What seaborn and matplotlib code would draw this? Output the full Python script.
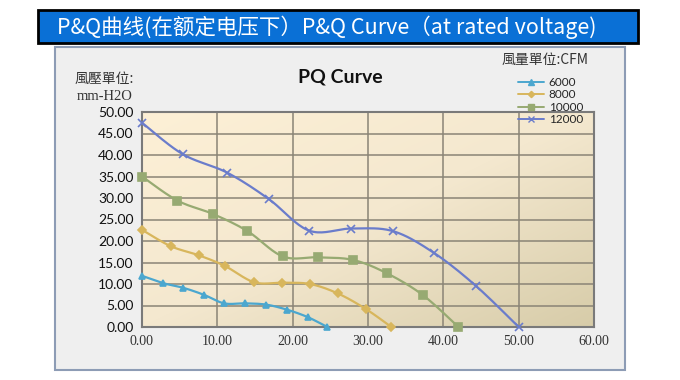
import numpy as np
import pandas as pd
import matplotlib
matplotlib.use('Agg')
import matplotlib.pyplot as plt
from matplotlib.colors import LinearSegmentedColormap
from matplotlib.patches import Rectangle
from matplotlib.lines import Line2D
import seaborn as sns

# values (airflow, pressure)
x_6000 = [0.0, 2.8, 5.5, 8.2, 10.9, 13.7, 16.5, 19.3, 22.0, 24.6]
y_6000 = [11.9, 10.2, 9.1, 7.5, 5.5, 5.5, 5.2, 4.0, 2.3, 0.0]
x_8000 = [0.0, 3.8, 7.5, 11.0, 14.9, 18.6, 22.3, 26.0, 29.7, 33.1]
y_8000 = [22.6, 18.8, 16.7, 14.2, 10.4, 10.3, 10.0, 7.8, 4.2, 0.0]
x_10000 = [0.0, 4.7, 9.4, 14.0, 18.7, 23.3, 28.0, 32.5, 37.3, 42.0]
y_10000 = [35.0, 29.4, 26.3, 22.3, 16.4, 16.2, 15.6, 12.5, 7.4, 0.0]
x_12000 = [0.0, 5.4, 11.3, 16.8, 22.2, 27.8, 33.3, 38.7, 44.3, 50.0]
y_12000 = [47.5, 40.2, 35.9, 29.8, 22.4, 22.9, 22.3, 17.3, 9.6, 0.0]

series = ['6000', '8000', '10000', '12000']
xs = [x_6000, x_8000, x_10000, x_12000]
ys = [y_6000, y_8000, y_10000, y_12000]
colors = ['#4ba7cf', '#d8b65c', '#97aa72', '#6a7ccb']
markers = ['^', 'D', 's', 'x']
msizes = [5, 4, 6, 6]

x_ticks = [0, 10, 20, 30, 40, 50, 60]
y_ticks = [0, 5, 10, 15, 20, 25, 30, 35, 40, 45, 50]


def smooth(px, py, n=20):
    # excel-like smooth line (catmull-rom through the points)
    p = np.column_stack([px, py])
    p = np.vstack([p[0], p, p[-1]])
    out = []
    for i in range(1, len(p) - 2):
        p0, p1, p2, p3 = p[i - 1], p[i], p[i + 1], p[i + 2]
        t = np.linspace(0, 1, n, endpoint=False)[:, None]
        seg = 0.5 * ((2 * p1) + (-p0 + p2) * t + (2 * p0 - 5 * p1 + 4 * p2 - p3) * t ** 2
                     + (-p0 + 3 * p1 - 3 * p2 + p3) * t ** 3)
        out.append(seg)
    out.append(p[-2][None, :])
    out = np.vstack(out)
    return out[:, 0], np.clip(out[:, 1], 0, None)


pts = pd.DataFrame([(s, a, b) for s, xx, yy in zip(series, xs, ys) for a, b in zip(xx, yy)],
                   columns=['cfm', 'flow', 'pressure'])
curve_rows = []
for s, xx, yy in zip(series, xs, ys):
    cx, cy = smooth(xx, yy)
    curve_rows += [(s, a, b, i) for i, (a, b) in enumerate(zip(cx, cy))]
curves = pd.DataFrame(curve_rows, columns=['cfm', 'flow', 'pressure', 'order'])

sns.set_style('white')
plt.rcParams['font.family'] = ['Lato', 'Noto Sans CJK TC', 'DejaVu Sans']

fig = plt.figure(figsize=(6.8, 3.8), dpi=100)
fig.patch.set_facecolor('white')

# blue banner at the top
fig.patches.append(Rectangle((38 / 680, 1 - 43 / 380), 600 / 680, 33 / 380, transform=fig.transFigure,
                             facecolor='#0a70d6', edgecolor='black', lw=2, zorder=-10))
fig.text(57 / 680, 1 - 27 / 380, 'P&Q曲线(在额定电压下）P&Q Curve（at rated voltage)', color='white',
         fontsize=15.5, va='center', ha='left', family=['Noto Sans CJK SC', 'DejaVu Sans'])

# grey chart frame
fig.patches.append(Rectangle((55 / 680, 1 - 370 / 380), 570 / 680, 323 / 380, transform=fig.transFigure,
                             facecolor='#efefef', edgecolor='#8d9cb5', lw=1.5, zorder=-10))

ax = fig.add_axes([142 / 680, 1 - 327 / 380, 452 / 680, 215 / 380])

# diagonal cream to tan gradient
gx, gy = np.meshgrid(np.linspace(0, 1, 200), np.linspace(0, 1, 200))
grad = (gx + gy) / 2
cmap = LinearSegmentedColormap.from_list('bg', ['#fdf0d6', '#f4e8cf', '#d7cca9'])
ax.imshow(grad, cmap=cmap, extent=[0, 60, 0, 50], origin='upper', aspect='auto', zorder=0)

for v in x_ticks:
    ax.axvline(v, color='#8a8476', lw=1.1, zorder=1)
for v in y_ticks:
    ax.axhline(v, color='#8a8476', lw=1.1, zorder=1)

pal = dict(zip(series, colors))
sns.lineplot(data=curves, x='flow', y='pressure', hue='cfm', units='cfm', estimator=None, sort=False,
             palette=pal, lw=1.6, ax=ax, legend=False, zorder=3)
for s, m, ms in zip(series, markers, msizes):
    d = pts[pts.cfm == s]
    ax.plot(d.flow, d.pressure, ls='none', marker=m, ms=ms, color=pal[s], mew=1.2, zorder=4, label=s,
            clip_on=False)

ax.set_xlim(0, 60)
ax.set_ylim(0, 50)
ax.set_xticks(x_ticks)
ax.set_yticks(y_ticks)
ax.set_xticklabels([f'{v:.2f}' for v in x_ticks], family='Liberation Serif', fontsize=10, color='#333333')
ax.set_yticklabels([f'{v:.2f}' for v in y_ticks], fontsize=10, color='#111111')
ax.tick_params(length=0, pad=6)
ax.set_xlabel('')
ax.set_ylabel('')
for sp in ax.spines.values():
    sp.set_color('#7a7a7a')
    sp.set_linewidth(1.5)

fig.text(340 / 680, 1 - 77 / 380, 'PQ Curve', fontsize=14, fontweight='bold', ha='center', va='center',
         color='#111111')
fig.text(104 / 680, 1 - 79 / 380, '風壓單位:', fontsize=10, ha='center', va='center', color='#333333',
         family=['Noto Sans CJK TC', 'DejaVu Sans'])
fig.text(105 / 680, 1 - 97 / 380, 'mm-H2O', fontsize=10.5, ha='center', va='center', color='#333333',
         family='Liberation Serif')

# legend with line+marker handles
handles = [Line2D([], [], color=c, marker=m, ms=ms * 0.8, lw=1.4) for c, m, ms in zip(colors, markers, msizes)]
leg = fig.legend(handles, series, loc='upper left', bbox_to_anchor=(512 / 680, 1 - 71 / 380), frameon=False,
                 fontsize=8.5, handlelength=2.2, labelspacing=0.12, borderpad=0, handletextpad=0.4)
fig.text(545 / 680, 1 - 60 / 380, '風量單位:CFM', fontsize=10, ha='center', va='center', color='#333333',
         family=['Noto Sans CJK TC', 'DejaVu Sans'])

fig.savefig('out.png', dpi=100)
